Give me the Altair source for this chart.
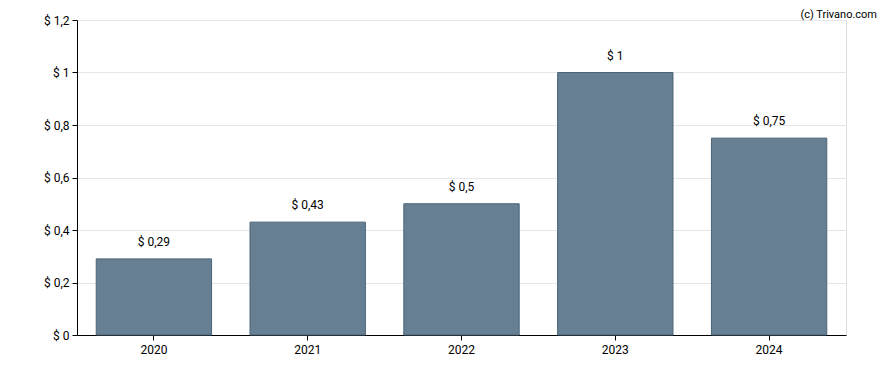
import altair as alt
import pandas as pd

years = ["2020", "2021", "2022", "2023", "2024"]
values = [0.29, 0.43, 0.5, 1.0, 0.75]
y_ticks = [0, 0.2, 0.4, 0.6, 0.8, 1.0, 1.2]

df = pd.DataFrame({"year": years, "value": values})

FONT = "Roboto"

base = alt.Chart(df).encode(
    x=alt.X("year:N", sort=years, title=None,
            scale=alt.Scale(paddingInner=0.25, paddingOuter=0.125),
            axis=alt.Axis(labelAngle=0, domainColor="#000000", tickColor="#000000",
                          tickSize=5, labelPadding=4, labelFontSize=12, labelFont=FONT,
                          labelColor="#000000", grid=False)),
)

bars = base.mark_bar(fill="#667f92", stroke="#4a6478", strokeWidth=1).encode(
    y=alt.Y("value:Q", title=None,
            scale=alt.Scale(domain=[0, 1.2], nice=False),
            axis=alt.Axis(values=y_ticks, domainColor="#000000", tickColor="#000000",
                          tickSize=5, labelPadding=3, labelFontSize=12, labelFont=FONT,
                          labelColor="#000000", gridColor="#e6e6e6",
                          labelExpr="'$ ' + replace(toString(datum.value), '.', ',')"))
)

labels = base.transform_calculate(
    lbl="'$ ' + replace(toString(datum.value), '.', ',')"
).mark_text(font=FONT, fontSize=12, color="#000000", baseline="alphabetic", dy=-13).encode(
    y=alt.Y("value:Q"),
    text="lbl:N",
)

credit = alt.Chart(pd.DataFrame({"t": ["(c) Trivano.com"]})).mark_text(
    font=FONT, fontSize=11, color="#000000", align="right", baseline="top"
).encode(
    x=alt.value(800), y=alt.value(-11), text="t:N"
)

chart = alt.layer(bars, labels, credit).properties(
    width=769, height=315,
    autosize=alt.AutoSizeParams(type="none"),
    padding={"left": 69, "top": 12, "right": 34, "bottom": 27},
).configure_view(stroke=None).configure(background="#ffffff")

chart.save("out.html", embed_options={"renderer": "svg", "actions": False})
